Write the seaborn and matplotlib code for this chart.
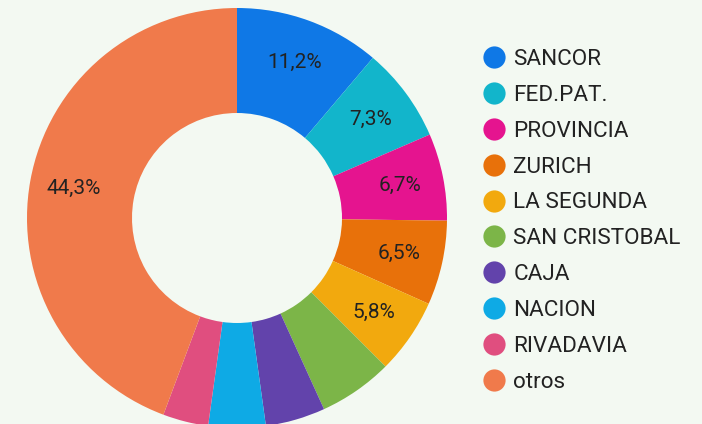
import matplotlib
matplotlib.use("Agg")
import matplotlib.pyplot as plt
from matplotlib.lines import Line2D
import seaborn as sns

companies = ["SANCOR", "FED.PAT.", "PROVINCIA", "ZURICH", "LA SEGUNDA",
             "SAN CRISTOBAL", "CAJA", "NACION", "RIVADAVIA", "otros"]
shares = [11.2, 7.3, 6.7, 6.5, 5.8, 5.7, 4.6, 4.4, 3.5, 44.3]
colors = ["#0f78e6", "#12b5cb", "#e5148f", "#e8710a", "#f2a90e",
          "#7cb548", "#6243ab", "#0eaae5", "#e04e7f", "#f07a4b"]

bg = "#f3f9f2"

sns.set_theme(style="white")
plt.rcParams["font.family"] = ["Roboto", "DejaVu Sans"]

fig = plt.figure(figsize=(7.02, 4.24), dpi=100, facecolor=bg)
ax = fig.add_axes([27 / 702, -4 / 424, 420 / 702, 420 / 424])
ax.set_facecolor(bg)


def fmt(p):
    # small slices get no label
    return f"{p:.1f}%".replace(".", ",") if p >= 5.75 else ""


wedges, texts, autotexts = ax.pie(
    shares, colors=sns.color_palette(colors), startangle=90, counterclock=False,
    autopct=fmt, pctdistance=0.79,
    wedgeprops=dict(width=0.5, linewidth=0),
    textprops=dict(fontsize=15, color="#222222"))
ax.set_xlim(-1, 1)
ax.set_ylim(-1, 1)
ax.set_aspect("equal")

handles = [Line2D([], [], marker="o", linestyle="none", markersize=16,
                  markerfacecolor=c, markeredgewidth=0) for c in colors]
leg = fig.legend(handles, companies, loc="upper left",
                 bbox_to_anchor=(482.75 / 702, 1 - 49 / 424),
                 frameon=False, fontsize=16.2, handlelength=1.0,
                 handletextpad=0.36, labelspacing=0.66, borderpad=0,
                 borderaxespad=0)
for t in leg.get_texts():
    t.set_color("#222222")

fig.savefig("out.png", dpi=100, facecolor=bg)
